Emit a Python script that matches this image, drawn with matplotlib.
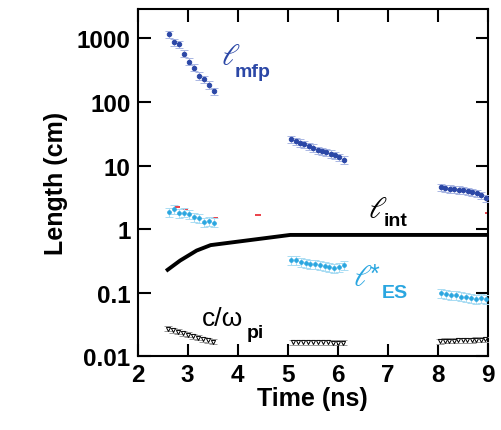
import matplotlib
matplotlib.use("Agg")
import matplotlib.pyplot as plt
import numpy as np

plt.rcParams['font.family'] = ['Liberation Sans', 'DejaVu Sans']

# Electron mean free path (cm), three shot windows
t_mfp1 = [2.63, 2.73, 2.83, 2.93, 3.03, 3.13, 3.23, 3.33, 3.43, 3.53]
l_mfp1 = [1164, 871, 811, 577, 432, 347, 257, 228, 186, 146]
t_mfp2 = [5.07, 5.16, 5.25, 5.33, 5.42, 5.51, 5.60, 5.68, 5.77, 5.86, 5.95, 6.03, 6.12]
l_mfp2 = [26.0, 23.9, 22.8, 21.4, 20.2, 19.0, 17.6, 16.8, 16.2, 15.3, 14.4, 13.6, 12.3]
t_mfp3 = [8.06, 8.15, 8.24, 8.33, 8.42, 8.51, 8.60, 8.69, 8.78, 8.87, 8.96]
l_mfp3 = [4.57, 4.41, 4.31, 4.20, 4.15, 4.05, 3.96, 3.82, 3.63, 3.38, 3.07]

# Electrostatic scale length l*_ES (cm)
t_es1 = [2.63, 2.73, 2.83, 2.93, 3.03, 3.13, 3.23, 3.33, 3.43, 3.53]
l_es1 = [1.85, 2.05, 1.80, 1.82, 1.72, 1.55, 1.48, 1.30, 1.33, 1.27]
t_es2 = [5.07, 5.17, 5.26, 5.36, 5.45, 5.55, 5.64, 5.74, 5.83, 5.93, 6.02, 6.12]
l_es2 = [0.321, 0.321, 0.303, 0.295, 0.285, 0.285, 0.275, 0.262, 0.253, 0.244, 0.253, 0.268]
t_es3 = [8.06, 8.16, 8.26, 8.36, 8.46, 8.56, 8.66, 8.76, 8.86, 8.96]
l_es3 = [0.0995, 0.095, 0.0927, 0.0904, 0.0871, 0.0841, 0.0822, 0.0802, 0.0822, 0.0802]

# Ion inertial length c/omega_pi (cm)
t_ci1 = [2.60, 2.70, 2.80, 2.90, 3.00, 3.10, 3.20, 3.30, 3.40, 3.50]
l_ci1 = [0.027, 0.026, 0.0245, 0.023, 0.0218, 0.0205, 0.0196, 0.0186, 0.0178, 0.0169]
t_ci2 = [5.10, 5.20, 5.30, 5.40, 5.50, 5.60, 5.70, 5.80, 5.90, 6.00, 6.10]
l_ci2 = [0.0167, 0.0167, 0.0166, 0.0166, 0.0165, 0.0165, 0.0165, 0.0165, 0.0164, 0.0164, 0.0164]
t_ci3 = [8.05, 8.14, 8.23, 8.32, 8.41, 8.50, 8.59, 8.68, 8.77, 8.86, 8.95]
l_ci3 = [0.0173, 0.0175, 0.0176, 0.0177, 0.0178, 0.0179, 0.0180, 0.0181, 0.0182, 0.0183, 0.0184]

# Interaction length (cm)
t_int = [2.57, 2.85, 3.18, 3.46, 5.05, 9.0]
l_int = [0.22, 0.32, 0.46, 0.56, 0.81, 0.81]

# Stray red error caps
t_red = [2.78, 2.94, 3.55, 4.40, 9.0]
l_red = [2.2, 2.1, 1.49, 1.68, 1.8]

rel_err_mfp = 0.13
rel_err_es = 0.16
rel_err_ci = 0.09

x_ticks = [2, 3, 4, 5, 6, 7, 8, 9]
y_ticks = [0.01, 0.1, 1, 10, 100, 1000]
y_ticklabels = ['0.01', '0.1', '1', '10', '100', '1000']

fig = plt.figure(figsize=(5.02, 4.31), dpi=100)
ax = fig.add_axes([0.274, 0.171, 0.698, 0.806])

blue = '#2b47a6'
blue_err = '#a9b6e3'
cyan = '#2aa6e0'
cyan_err = '#a9dcf3'


def draw_series(t, v, rel, color, ecolor, marker, ms, mfc):
    v = np.asarray(v)
    ax.errorbar(t, v, yerr=rel * v, fmt=marker, color=color, ms=ms,
                mfc=mfc, mec=color, mew=0.7, ecolor=ecolor, elinewidth=0.8,
                capsize=3, capthick=0.8, zorder=3)


for t, v in [(t_mfp1, l_mfp1), (t_mfp2, l_mfp2), (t_mfp3, l_mfp3)]:
    draw_series(t, v, rel_err_mfp, blue, blue_err, 'o', 3.2, blue)
for t, v in [(t_es1, l_es1), (t_es2, l_es2), (t_es3, l_es3)]:
    draw_series(t, v, rel_err_es, cyan, cyan_err, 'o', 2.6, cyan)
for t, v in [(t_ci1, l_ci1), (t_ci2, l_ci2), (t_ci3, l_ci3)]:
    draw_series(t, v, rel_err_ci, 'black', '#9a9a9a', 'v', 3.0, 'white')

ax.plot(t_red, l_red, linestyle='none', marker='_', color='#e8202a', ms=5, mew=1.2, zorder=2)

ax.plot(t_int, l_int, color='black', lw=2.8, solid_capstyle='butt', zorder=4)

ax.set_yscale('log')
ax.set_xlim(2, 9)
ax.set_ylim(0.01, 2900)
ax.set_xticks(x_ticks)
ax.set_xticklabels([str(x) for x in x_ticks])
ax.set_yticks(y_ticks)
ax.set_yticklabels(y_ticklabels)
ax.minorticks_off()
ax.tick_params(which='major', direction='in', length=9, width=1.5,
               top=True, right=True, labelsize=17.5, pad=5)
for lab in ax.get_xticklabels() + ax.get_yticklabels():
    lab.set_fontweight('bold')
for s in ax.spines.values():
    s.set_linewidth(1.5)

ax.set_xlabel('Time (ns)', fontsize=18, fontweight='bold', labelpad=0)
ax.set_ylabel('Length (cm)', fontsize=18, fontweight='bold', labelpad=6)


def ell(x, y, color):
    ax.text(x, y, r'$\ell$', color=color, fontsize=22, fontweight='normal',
            math_fontfamily='stix', ha='left', va='center')


# Curve labels
ell(3.66, 530, blue)
ax.text(3.93, 297, 'mfp', color=blue, fontsize=14, fontweight='bold', ha='left', va='center')

ell(6.61, 2.08, 'black')
ax.text(6.92, 1.35, 'int', color='black', fontsize=14, fontweight='bold', ha='left', va='center')

ell(6.31, 0.178, cyan)
ax.text(6.63, 0.20, '*', color=cyan, fontsize=18, ha='left', va='center', fontweight='normal')
ax.text(6.88, 0.101, 'ES', color=cyan, fontsize=14, fontweight='bold', ha='left', va='center')

ax.text(3.29, 0.040, 'c/ω', color='black', fontsize=19, fontweight='normal',
        ha='left', va='center')
ax.text(4.19, 0.0238, 'pi', color='black', fontsize=14, fontweight='bold', ha='left', va='center')

fig.savefig('out.png', dpi=100)
